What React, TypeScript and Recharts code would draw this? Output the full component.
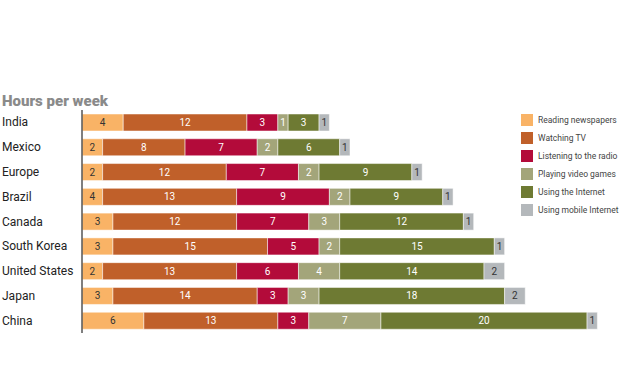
import React from "react";
import { BarChart, Bar, XAxis, YAxis, LabelList } from "recharts";

const categories = ["India", "Mexico", "Europe", "Brazil", "Canada", "South Korea", "United States", "Japan", "China"];
// drawn lengths
const newspapers = [4, 2, 2, 2, 3, 3, 2, 3, 6];
// printed labels (Brazil's newspaper segment is labelled 4 though drawn as 2)
const newspaperLabels = ["4", "2", "2", "4", "3", "3", "2", "3", "6"];
const tv = [12, 8, 12, 13, 12, 15, 13, 14, 13];
const radio = [3, 7, 7, 9, 7, 5, 6, 3, 3];
const games = [1, 2, 2, 2, 3, 2, 4, 3, 7];
const internet = [3, 6, 9, 9, 12, 15, 14, 18, 20];
const mobile = [1, 1, 1, 1, 1, 1, 2, 2, 1];

const series = [
  { key: "newspapers", label: "newspapersLabel", name: "Reading newspapers", color: "#F9B366", text: "#333" },
  { key: "tv", label: "tv", name: "Watching TV", color: "#C0602A", text: "#fff" },
  { key: "radio", label: "radio", name: "Listening to the radio", color: "#B30B3A", text: "#fff" },
  { key: "games", label: "games", name: "Playing video games", color: "#A3A57A", text: "#fff" },
  { key: "internet", label: "internet", name: "Using the Internet", color: "#6E7A33", text: "#fff" },
  { key: "mobile", label: "mobile", name: "Using mobile Internet", color: "#B4B8BB", text: "#333" },
];

const data = categories.map((c, i) => ({
  country: c,
  newspapers: newspapers[i],
  newspapersLabel: newspaperLabels[i],
  tv: tv[i],
  radio: radio[i],
  games: games[i],
  internet: internet[i],
  mobile: mobile[i],
}));

const FONT = "Roboto, 'Open Sans', sans-serif";

const CountryTick = (props: any) => {
  const { y, payload } = props;
  return (
    <text x={2} y={y} dy={4} textAnchor="start" fontSize={12} fill="#222" fontFamily={FONT}>
      {payload.value}
    </text>
  );
};

export default function App() {
  return (
    <div style={{ position: "fixed", left: 0, top: 0, width: 620, height: 386, background: "#fff" }}>
      <div
        style={{
          position: "absolute",
          left: 2,
          top: 92,
          fontFamily: FONT,
          fontWeight: 900,
          fontSize: 15,
          color: "#8a8a8a",
        }}
      >
        Hours per week
      </div>
      <div style={{ position: "absolute", left: 521, top: 111, fontFamily: FONT }}>
        {series.map((s) => (
          <div key={s.key} style={{ display: "flex", alignItems: "center", height: 18 }}>
            <div style={{ width: 12, height: 12, flexShrink: 0, background: s.color, marginRight: 5 }} />
            <span style={{ fontSize: 8.5, color: "#444", whiteSpace: "nowrap" }}>{s.name}</span>
          </div>
        ))}
      </div>
      <BarChart
        width={620}
        height={386}
        data={data}
        layout="vertical"
        margin={{ top: 110, right: 2, bottom: 53, left: 0 }}
        barSize={17}
      >
        <XAxis type="number" domain={[0, 52]} hide />
        <YAxis
          type="category"
          dataKey="country"
          width={82}
          tick={<CountryTick />}
          tickLine={false}
          axisLine={{ stroke: "#555", strokeWidth: 1.5 }}
        />
        {series.map((s) => (
          <Bar
            key={s.key}
            dataKey={s.key}
            name={s.name}
            stackId="a"
            fill={s.color}
            stroke="#ffffff"
            strokeWidth={0.5}
            isAnimationActive={false}
          >
            <LabelList dataKey={s.label} position="center" fill={s.text} fontSize={10} fontFamily={FONT} />
          </Bar>
        ))}
      </BarChart>
    </div>
  );
}
